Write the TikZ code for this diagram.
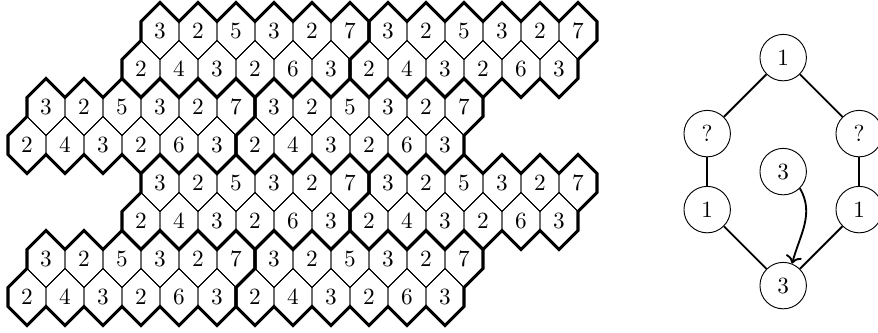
\documentclass[tikz,border=0pt]{standalone}
\usetikzlibrary{positioning, arrows.meta}
\tikzset{
    hexline/.style={draw, thin},
    blockline/.style={draw, line width=1.3pt, line join=miter},
    digit/.style={inner sep=0pt},
    vertex/.style={draw, circle, minimum size=20pt, inner sep=0pt},
    link/.style={thick}
}
\newcommand{\hexat}[2]{\draw[hexline] (#1,#2) ++(-.5,.25) -- ++(.5,.5) -- ++(.5,-.5) -- ++(0,-.5) -- ++(-.5,-.5) -- ++(-.5,.5) -- cycle;}

\begin{document}
\begin{tikzpicture}[x=.575cm, y=.575cm, node distance=1.15cm and 1.15cm, on grid]
  \useasboundingbox (-4.2105,.8158) rectangle (18.895,-7.947);
  % blocks of hexagons
  \foreach \bx/\by [count=\b] in {0/0, 6/0, -3/-2, 3/-2, 0/-4, 6/-4, -3/-6, 3/-6} {
    \foreach \d [count=\i from 0] in {3,2,5,3,2,7} {
      \hexat{\bx+\i}{\by}
      \node[digit] (t\b-\i) at (\bx+\i,\by) {\d};
    }
    \foreach \d [count=\i from 0] in {2,4,3,2,6,3} {
      \hexat{\bx+\i-.5}{\by-1}
      \node[digit] (s\b-\i) at (\bx+\i-.5,\by-1) {\d};
    }
    \draw[blockline] (\bx-.5,\by+.25) \foreach \k in {1,...,6} {-- ++(.5,.5) -- ++(.5,-.5)}
      -- ++(0,-.5) -- ++(-.5,-.5) -- ++(0,-.5)
      \foreach \k in {1,...,6} {-- ++(-.5,-.5) -- ++(-.5,.5)}
      -- ++(0,.5) -- ++(.5,.5) -- cycle;
  }
  % graph
  \node[vertex] (top) at (16.4,-.7) {1};
  \node[vertex, below left=of top] (lq) {?};
  \node[vertex, below right=of top] (rq) {?};
  \node[vertex, below=of lq] (l1) {1};
  \node[vertex, below=of rq] (r1) {1};
  \node[vertex, below right=of l1] (bot) {3};
  \node[vertex, below=1.725cm of top] (mid) {3};
  \draw[link] (top) -- (lq);
  \draw[link] (top) -- (rq);
  \draw[link] (lq) -- (l1);
  \draw[link] (rq) -- (r1);
  \draw[link] (l1) -- (bot);
  \draw[link] (r1) -- (bot);
  \draw[link, ->] (mid.-45) to[out=-60, in=75] (bot.68);
\end{tikzpicture}
\end{document}
